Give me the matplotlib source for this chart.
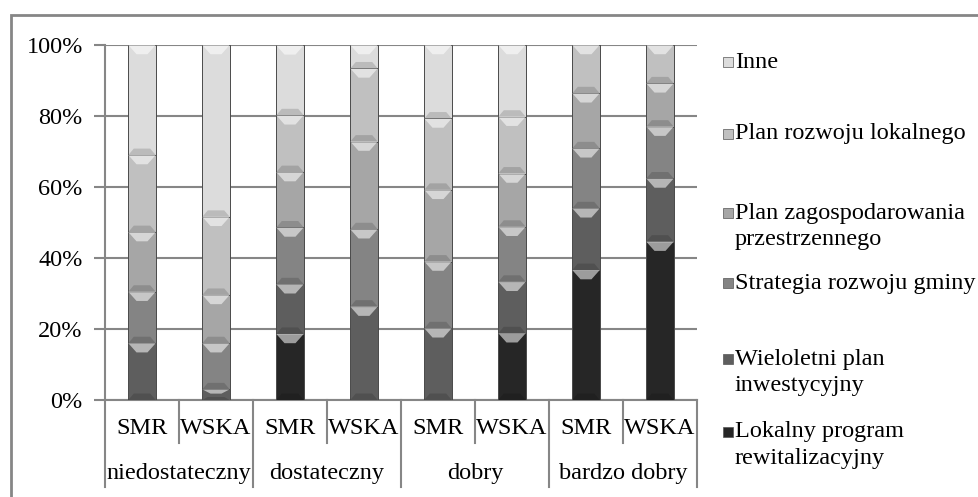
import numpy as np
import matplotlib
matplotlib.use("Agg")
import matplotlib.pyplot as plt
from matplotlib.patches import Rectangle, Polygon
from matplotlib.lines import Line2D

plt.rcParams['font.family'] = ['Liberation Serif', 'DejaVu Serif']

groups = ['niedostateczny', 'dostateczny', 'dobry', 'bardzo dobry']
subs = ['SMR', 'WSKA']

series = ['Lokalny program\nrewitalizacyjny', 'Wieloletni plan\ninwestycyjny',
          'Strategia rozwoju gminy', 'Plan zagospodarowania\nprzestrzennego',
          'Plan rozwoju lokalnego', 'Inne']
lokalny = [0, 0, 18.6, 0, 0, 18.8, 36.6, 44.6]
wieloletni = [16, 3, 14, 26.3, 20.2, 14.5, 17.4, 17.8]
strategia = [14.5, 13, 16, 21.8, 18.8, 15.5, 16.9, 14.6]
plan_zag = [16.8, 13.6, 15.6, 24.7, 20.2, 15, 15.5, 12.2]
plan_rozw = [21.7, 22, 16, 20.6, 20.1, 16, 13.6, 10.8]
inne = [31, 48.4, 19.7, 6.6, 20.7, 20.2, 0, 0]
values = [lokalny, wieloletni, strategia, plan_zag, plan_rozw, inne]
colors = ['#262626', '#5e5e5e', '#848484', '#a6a6a6', '#c0c0c0', '#dcdcdc']

FS = 17.5
W, H = 979, 497
fig = plt.figure(figsize=(W / 100, H / 100), dpi=100)
ax = fig.add_axes([105 / W, 1 - 400 / H, 592 / W, 355 / H])

n = len(groups) * len(subs)
x = np.arange(n)
bottom = np.zeros(n)
for vals, c in zip(values, colors):
    v = np.array(vals, dtype=float)
    bars = ax.bar(x, v, 0.37, bottom=bottom, color=c, edgecolor='#4a4a4a',
                  linewidth=0.7, zorder=3)
    # simple bevel: light V at top, darker strip at bottom
    for b in bars:
        h = b.get_height()
        if h <= 0:
            continue
        x0, y0, w = b.get_x(), b.get_y(), b.get_width()
        d = min(2.6, h * 0.4)
        ax.add_patch(Polygon([(x0, y0 + h), (x0 + w, y0 + h), (x0 + w * 0.7, y0 + h - d),
                              (x0 + w * 0.3, y0 + h - d)], closed=True,
                             facecolor='white', alpha=0.55, lw=0, zorder=4))
        ax.add_patch(Polygon([(x0, y0), (x0 + w, y0), (x0 + w * 0.8, y0 + d * 0.7),
                              (x0 + w * 0.2, y0 + d * 0.7)], closed=True,
                             facecolor='black', alpha=0.15, lw=0, zorder=4))
    bottom += v

ax.set_xlim(-0.5, n - 0.5)
ax.set_ylim(0, 100)
ax.set_yticks(np.arange(0, 101, 20))
ax.set_yticklabels([f'{t}%' for t in range(0, 101, 20)], fontsize=FS)
ax.yaxis.grid(True, color='#868686', linewidth=1.5, zorder=0)
ax.tick_params(axis='y', length=8, width=1.5, color='#868686', pad=8)
ax.set_xticks([])
for s in ['top', 'right']:
    ax.spines[s].set_visible(False)
for s in ['left', 'bottom']:
    ax.spines[s].set_color('#868686')
    ax.spines[s].set_linewidth(1.5)

# two-level category axis
tr = ax.get_xaxis_transform()
for i in range(n):
    ax.text(x[i], -0.08, subs[i % 2], transform=tr, ha='center', va='center',
            fontsize=FS, clip_on=False)
for g in range(len(groups)):
    ax.text(g * 2 + 0.5, -0.208, groups[g], transform=tr, ha='center', va='center',
            fontsize=FS, clip_on=False)
for i in range(n + 1):
    depth = -0.246 if i % 2 == 0 else -0.121
    ax.add_line(Line2D([i - 0.5, i - 0.5], [0, depth], transform=tr, color='#868686',
                       lw=1.5, clip_on=False))

# outer border
fig.patches.append(Rectangle((11 / W, -0.1), 1.2, 1 - 15 / H + 0.1, transform=fig.transFigure,
                             fill=False, edgecolor='#868686', lw=2))

# legend
leg_y = [62, 134, 213, 283, 359, 432]
order = list(range(len(series)))[::-1]
for k, si in enumerate(order):
    yc = 1 - leg_y[k] / H
    fig.patches.append(Rectangle((723 / W, yc - 5 / H), 10 / W, 10 / H, transform=fig.transFigure,
                                 facecolor=colors[si], edgecolor='#555555', lw=0.5))
    lines = series[si].split('\n')
    for j, line in enumerate(lines):
        fig.text(735 / W, yc - j * 26.5 / H, line, ha='left', va='center', fontsize=FS)

fig.savefig('out.png', dpi=100)
